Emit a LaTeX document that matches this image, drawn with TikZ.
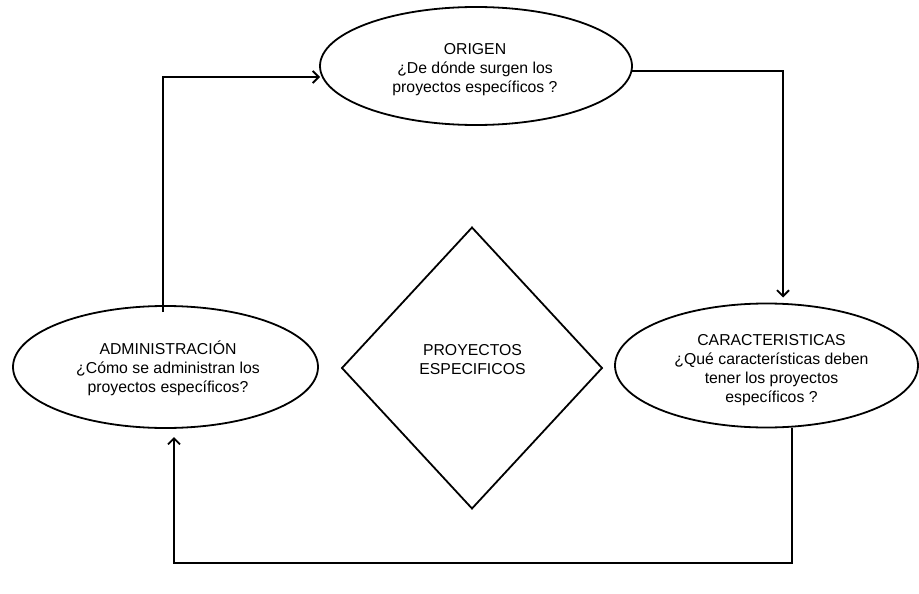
\documentclass[tikz,border=0pt]{standalone}
\usepackage{fontspec}
\setmainfont{Liberation Sans}
\usetikzlibrary{shapes.geometric,arrows.meta}
\begin{document}
\begin{tikzpicture}[x=1pt,y=-1pt,
  shapeline/.style={draw=black,line width=1.8pt},
  oval/.style={shapeline,ellipse,inner sep=0pt,outer sep=0pt},
  rhomb/.style={shapeline,diamond,inner sep=0pt,outer sep=0pt},
  txt/.style={align=center,font=\fontsize{15.8pt}{19pt}\selectfont,inner sep=0pt},
  arr/.style={line width=1.8pt,-{Straight Barb[length=6pt,width=12pt,line width=1.8pt]}},
  link/.style={line width=1.8pt}]
\useasboundingbox (0,0) rectangle (919,594);

% shapes
\node[oval,minimum width=312pt,minimum height=118pt] (orig) at (476,66) {};
\node[oval,minimum width=305pt,minimum height=122pt] (adm) at (165.5,367) {};
\node[oval,minimum width=303pt,minimum height=124pt] (cara) at (766.5,365.5) {};
\node[rhomb,minimum width=260pt,minimum height=281pt] (proy) at (472,368) {};

% texts
\node[txt] (origtxt) at (475,70) {ORIGEN\\¿De dónde surgen los\\proyectos específicos ?};
\node[txt] (admtxt) at (168,368) {ADMINISTRACIÓN\\¿Cómo se administran los\\proyectos específicos?};
\node[txt] (caratxt) at (771.5,370) {CARACTERISTICAS\\¿Qué características deben\\tener los proyectos\\específicos ?};
\node[txt] (proytxt) at (472.5,359.5) {PROYECTOS\\ESPECIFICOS};

% connector end points
\coordinate (admtop) at ([xshift=-2.5pt,yshift=-6pt]adm.north);
\coordinate (origin) at ([yshift=-11pt]orig.west);
\coordinate (origout) at ([yshift=-5pt]orig.east);
\coordinate (carain) at ([xshift=16.5pt,yshift=6pt]cara.north);
\coordinate (caraout) at ([xshift=25.5pt]cara.south);
\coordinate (admin) at ([xshift=8.5pt,yshift=-9pt]adm.south);
\coordinate (bottom) at (0,563);

% connectors
\draw[arr] (admtop) |- (origin);
\draw[arr] (origout) -| (carain);
\draw[arr] (caraout) -- (caraout |- bottom) -| (admin);
\end{tikzpicture}
\end{document}
